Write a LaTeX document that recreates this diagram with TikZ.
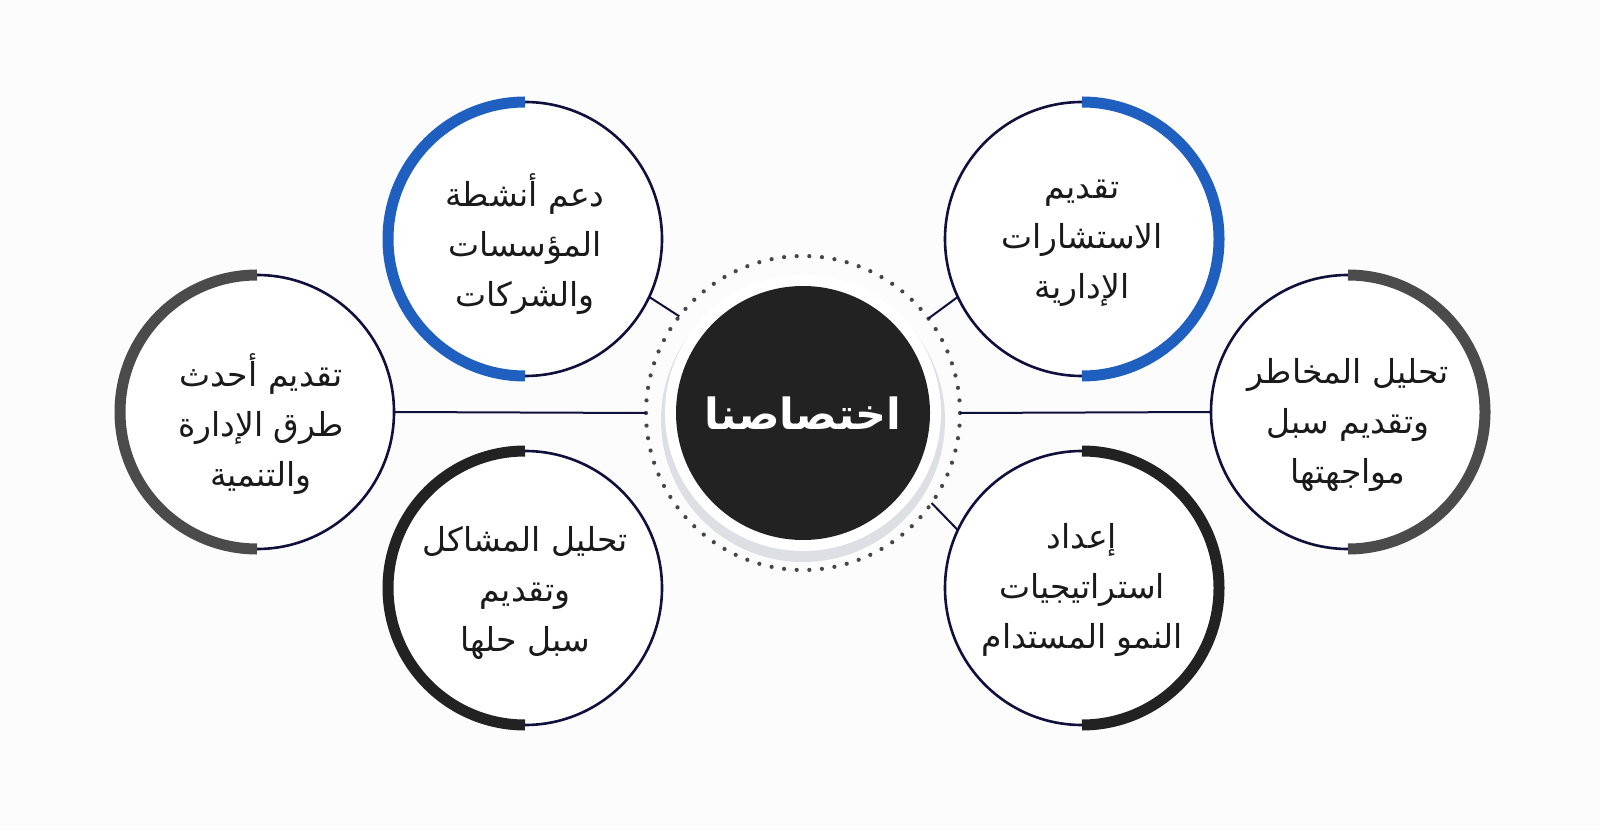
\documentclass[tikz,border=0pt]{standalone}
\usepackage{fontspec}
\newfontfamily\arabicfont[Script=Arabic]{DejaVu Sans}
\TeXXeTstate=1
\newcommand\arl[1]{\beginR #1\endR}
\definecolor{navy}{RGB}{16,16,60}
\definecolor{bluearc}{RGB}{30,95,192}
\definecolor{grayarc}{RGB}{75,75,75}
\definecolor{darkarc}{RGB}{34,34,34}
\definecolor{dotcol}{RGB}{70,70,70}
\definecolor{txt}{RGB}{26,26,26}
\definecolor{shadowcol}{RGB}{220,223,228}
\definecolor{bg}{RGB}{252,252,252}
\begin{document}
\begin{tikzpicture}[x=1pt,y=1pt,
  outercircle/.style={circle,draw=navy,line width=2.6pt,fill=white,minimum size=274pt,inner sep=0pt,outer sep=0pt},
  label text/.style={text=txt,align=center,inner sep=0pt,font=\arabicfont\fontsize{33}{50}\selectfont},
  thickarc/.style={line width=11pt},
  conn/.style={draw=navy,line width=2pt},
]
\useasboundingbox (0,0) rectangle (1600,831);
\fill[bg] (0,0) rectangle (1600,831);

% central ring
\node[circle,minimum size=314pt,inner sep=0pt,outer sep=0pt] (ring) at (803,418) {};
\foreach \a in {0,...,77}
  \fill[dotcol] (ring.center) ++({\a*4.6153846}:157) circle (2.1);
\fill[shadowcol] (803,411) circle (142);
\fill[white] (803,418) circle (138);
\node[circle,fill=darkarc,minimum size=254pt,inner sep=0pt,outer sep=0pt,text=white,
  font=\arabicfont\bfseries\fontsize{43}{46}\selectfont] (core) at (803,418) {\arl{اختصاصنا}};

% outer circles
\node[outercircle] (tl) at (525,592) {};
\node[outercircle] (tr) at (1082,592) {};
\node[outercircle] (ml) at (257,419) {};
\node[outercircle] (mr) at (1348,419) {};
\node[outercircle] (bl) at (525,243) {};
\node[outercircle] (br) at (1082,243) {};

% labels
\node[label text,yshift=-5pt] (tlt) at (tl.center) {\arl{دعم أنشطة}\\\arl{المؤسسات}\\\arl{والشركات}};
\node[label text,yshift=-4pt] (trt) at (tr.center) {\arl{تقديم}\\\arl{الاستشارات}\\\arl{الإدارية}};
\node[label text,yshift=-12pt,xshift=4pt] (mlt) at (ml.center) {\arl{تقديم أحدث}\\\arl{طرق الإدارة}\\\arl{والتنمية}};
\node[label text,yshift=-13pt] (mrt) at (mr.center) {\arl{تحليل المخاطر}\\\arl{وتقديم سبل}\\\arl{مواجهتها}};
\node[label text,yshift=-5pt] (blt) at (bl.center) {\arl{تحليل المشاكل}\\\arl{وتقديم}\\\arl{سبل حلها}};
\node[label text,yshift=-2pt] (brt) at (br.center) {\arl{إعداد}\\\arl{استراتيجيات}\\\arl{النمو المستدام}};

% thick half arcs
\draw[thickarc,bluearc] (tl.north) arc[start angle=90,end angle=270,radius=137];
\draw[thickarc,bluearc] (tr.north) arc[start angle=90,end angle=-90,radius=137];
\draw[thickarc,grayarc] (ml.north) arc[start angle=90,end angle=270,radius=137];
\draw[thickarc,grayarc] (mr.north) arc[start angle=90,end angle=-90,radius=137];
\draw[thickarc,darkarc] (bl.north) arc[start angle=90,end angle=270,radius=137];
\draw[thickarc,darkarc] (br.north) arc[start angle=90,end angle=-90,radius=137];

% connectors
\draw[conn] (ml.east) -- (ring.west);
\draw[conn] (mr.west) -- (ring.east);
\draw[conn] (tl.-25) -- (ring.142);
\draw[conn] (tr.205) -- (ring.37);
\draw[conn] (br.155) -- (ring.-35);
\end{tikzpicture}
\end{document}
